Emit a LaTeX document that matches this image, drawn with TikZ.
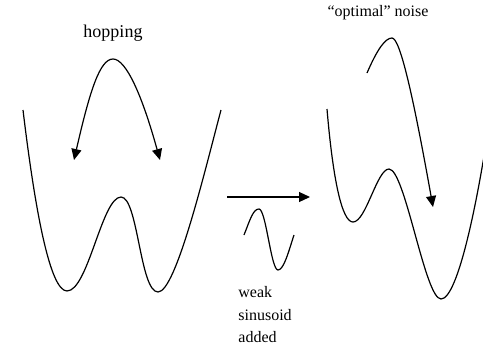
\documentclass[tikz,border=0pt]{standalone}
\usepackage{fontspec}
\setmainfont{Liberation Serif}
\usetikzlibrary{arrows.meta}

\begin{document}
\begin{tikzpicture}[x=0.5pt,y=-0.5pt,
  curve/.style={line width=0.6pt,line join=round},
  arr/.style={line width=0.6pt,-{Triangle[length=5.5pt,width=5pt]}},
  hop/.style={line width=0.6pt,{Triangle[length=5.5pt,width=5pt]}-{Triangle[length=5.5pt,width=5pt]}},
  lbl/.style={font=\fontsize{8}{10}\selectfont,inner sep=0pt}]
\useasboundingbox (0,0) rectangle (483,344);
\clip (0,0) rectangle (483,344);
% symmetric double well
\draw[curve] (23,110) .. controls (35,210) and (50,291) .. (67,291)
  .. controls (88,291) and (102,197) .. (121,197)
  .. controls (138,197) and (140,292) .. (158,292)
  .. controls (176,292) and (205,170) .. (221,110);
\coordinate (hopL) at (74,160);
\coordinate (hopR) at (160,160);
\draw[hop] (hopL) .. controls (90,90) and (100,59) .. (113,59)
  .. controls (126,59) and (142,95) .. (hopR);
\node[lbl,font=\fontsize{9}{11}\selectfont] (hopping) at (113,33) {hopping};
% weak periodic forcing
\coordinate (addA) at (227,197);
\coordinate (addB) at (310,197);
\draw[arr] (addA) -- (addB);
\draw[curve] (244,235) .. controls (250,220) and (253,209) .. (259,209)
  .. controls (266,209) and (271,270) .. (278,270)
  .. controls (284,270) and (289,250) .. (294,235);
\foreach \n/\t/\y in {weak/weak/297,sinus/sinusoid/320,added/added/342}
  \node[lbl,anchor=base west] (\n) at (238,\y) {\t};
% tilted well
\draw[curve] (327,109) .. controls (333,180) and (342,222) .. (353,222)
  .. controls (366,222) and (377,169) .. (389,169)
  .. controls (405,169) and (425,299) .. (441,299)
  .. controls (458,299) and (478,200) .. (490,118);
\coordinate (noiseA) at (367,73);
\coordinate (noiseB) at (433,207);
\draw[arr] (noiseA) .. controls (377,50) and (385,38) .. (392,38)
  .. controls (400,38) and (413,95) .. (noiseB);
\node[lbl] (optimal) at (378,13) {“optimal” noise};
\end{tikzpicture}
\end{document}
